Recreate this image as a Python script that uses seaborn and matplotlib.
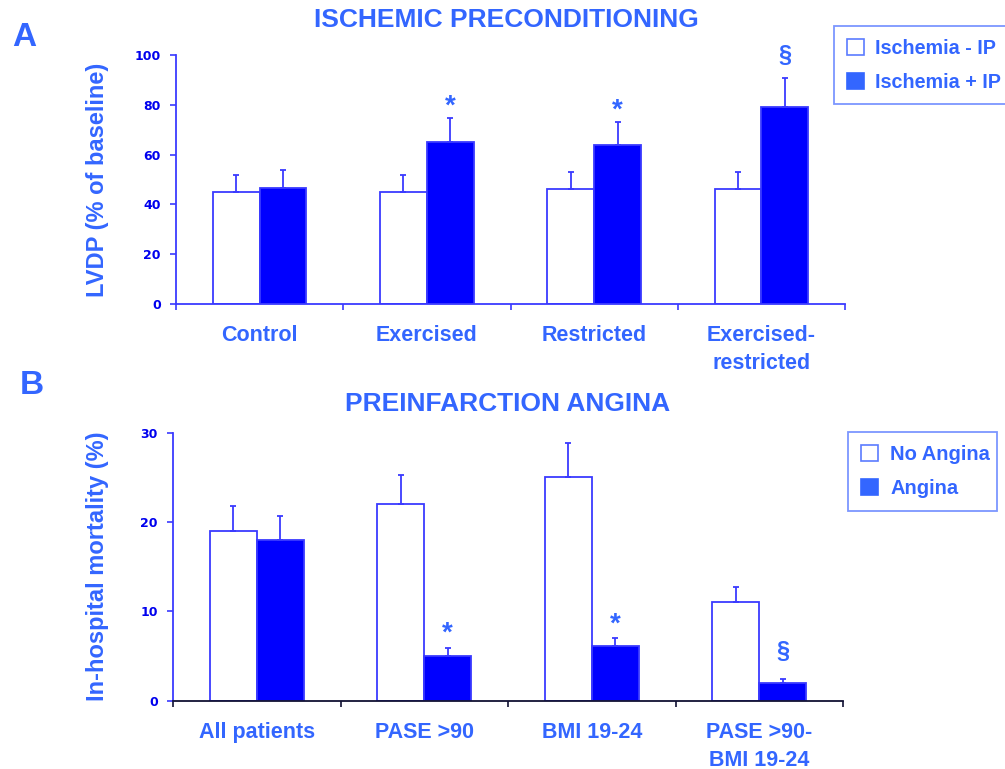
import matplotlib
matplotlib.use("Agg")
import matplotlib.pyplot as plt
from matplotlib.patches import Patch
import seaborn as sns
import pandas as pd

# Panel A: ischemic preconditioning, LVDP as % of baseline
groups_a = ["Control", "Exercised", "Restricted", "Exercised-\nrestricted"]
cond_a = ["Ischemia - IP", "Ischemia + IP"]
lvdp_minus_ip = [45, 45, 46, 46]
lvdp_minus_ip_err = [6.7, 6.7, 7.0, 7.0]
lvdp_plus_ip = [46.7, 65, 64, 79]
lvdp_plus_ip_err = [7.1, 9.8, 9.2, 11.8]
marks_a = ["", "*", "*", "§"]

# Panel B: preinfarction angina, in-hospital mortality
groups_b = ["All patients", "PASE >90", "BMI 19-24", "PASE >90-\nBMI 19-24"]
cond_b = ["No Angina", "Angina"]
mort_no_angina = [19, 22, 25, 11]
mort_no_angina_err = [2.8, 3.3, 3.8, 1.7]
mort_angina = [18, 5, 6.1, 2]
mort_angina_err = [2.7, 0.9, 0.9, 0.4]
marks_b = ["", "*", "*", "§"]

TEXT = "#3366ff"
TICK = "#0000ee"
BAR = "#0000ff"
EDGE = "#3a3aff"
LEG_EDGE = "#5b7cff"
FONT = "Liberation Sans"
W, H = 1005, 769

sns.set_theme(style="white")
plt.rcParams["font.family"] = [FONT, "DejaVu Sans"]

fig = plt.figure(figsize=(W / 100, H / 100), dpi=100)
ax_a = fig.add_axes([176 / W, 1 - 304 / H, (845 - 176) / W, (304 - 55) / H])
ax_b = fig.add_axes([173 / W, 1 - 700.7 / H, (843 - 173) / W, (700.7 - 432.7) / H])


def panel(ax, groups, conds, lo, lo_err, hi, hi_err, marks, ymax, yticks,
          ylabel, bottom_color, mark_offsets):
    df = pd.DataFrame({
        "group": groups * 2,
        "cond": [conds[0]] * len(groups) + [conds[1]] * len(groups),
        "value": lo + hi,
    })
    sns.barplot(data=df, x="group", y="value", hue="cond", order=groups,
                hue_order=conds, palette={conds[0]: "white", conds[1]: BAR},
                saturation=1, width=0.56, edgecolor=EDGE, linewidth=1.3,
                errorbar=None, legend=False, ax=ax)
    errs = [lo_err, hi_err]
    bar_sets = list(ax.containers)
    for k, cont in enumerate(bar_sets):
        for i, bar in enumerate(cont):
            x = bar.get_x() + bar.get_width() / 2
            top = bar.get_height()
            ax.errorbar([x], [top], yerr=[[0], [errs[k][i]]], fmt="none",
                        ecolor=EDGE, elinewidth=1.3, capsize=2.2, capthick=1.3,
                        zorder=1)
            if k == 1 and marks[i]:
                off = mark_offsets[marks[i]]
                ax.annotate(marks[i], xy=(x, top + errs[k][i]), xytext=(0, off),
                            textcoords="offset points", ha="center", va="center",
                            color=TEXT, fontsize=20 if marks[i] == "*" else 17,
                            fontweight="bold")
    ax.set_xlim(-0.5, len(groups) - 0.5)
    ax.set_ylim(0, ymax)
    ax.set_yticks(yticks)
    ax.set_xlabel("")
    ax.set_ylabel(ylabel, color=TEXT, fontsize=17, fontweight="bold")
    # the y label's lower edge sits at pixel column 109
    x_lab = (109 - ax.get_position().x0 * W) / (ax.get_position().width * W)
    ax.yaxis.set_label_coords(x_lab, 0.5)
    ax.set_xticks(range(len(groups)))
    ax.set_xticklabels(groups, color=TEXT, fontsize=15.5, fontweight="bold",
                       linespacing=1.45)
    ax.set_xticks([i - 0.5 for i in range(len(groups) + 1)], minor=True)
    ax.tick_params(axis="x", which="major", length=0, pad=15)
    ax.tick_params(axis="x", which="minor", length=4, width=1.2,
                   direction="out", color=bottom_color, bottom=True)
    ax.tick_params(axis="y", length=4, width=1.2, direction="out",
                   color=EDGE, pad=7, left=True)
    for lab in ax.get_yticklabels():
        lab.set_fontfamily("DejaVu Sans")
        lab.set_fontweight("bold")
        lab.set_fontsize(9)
        lab.set_color(TICK)
    sns.despine(ax=ax)
    ax.spines["left"].set_color(EDGE)
    ax.spines["left"].set_linewidth(1.3)
    ax.spines["bottom"].set_color(bottom_color)
    ax.spines["bottom"].set_linewidth(1.3)
    ax.set_facecolor("white")


panel(ax_a, groups_a, cond_a, lvdp_minus_ip, lvdp_minus_ip_err, lvdp_plus_ip,
      lvdp_plus_ip_err, marks_a, 100, [0, 20, 40, 60, 80, 100],
      "LVDP (% of baseline)", EDGE, {"*": 8, "§": 16})
panel(ax_b, groups_b, cond_b, mort_no_angina, mort_no_angina_err, mort_angina,
      mort_angina_err, marks_b, 30, [0, 10, 20, 30],
      "In-hospital mortality (%)", "#111133", {"*": 10, "§": 20})

# Titles and panel letters
fig.text(506 / W, 1 - 20 / H, "ISCHEMIC PRECONDITIONING", color=TEXT,
         fontsize=19, fontweight="bold", ha="center", va="center")
fig.text(508 / W, 1 - 404 / H, "PREINFARCTION ANGINA", color=TEXT,
         fontsize=19, fontweight="bold", ha="center", va="center")
fig.text(12 / W, 1 - 37 / H, "A", color=TEXT, fontsize=24,
         fontweight="bold", ha="left", va="center")
fig.text(20 / W, 1 - 385 / H, "B", color=TEXT, fontsize=24,
         fontweight="bold", ha="left", va="center")


def legend(ax, labels, x0, x1, y0, size):
    handles = [Patch(facecolor="white", edgecolor=LEG_EDGE, linewidth=1.2),
               Patch(facecolor=TEXT, edgecolor=TEXT, linewidth=1.2)]
    leg = ax.legend(handles, labels, loc="upper left",
                    bbox_to_anchor=(x0 / W, 1 - y0 / H - 0.2, (x1 - x0) / W, 0.2),
                    bbox_transform=fig.transFigure, mode="expand",
                    frameon=True, fancybox=False,
                    prop={"family": FONT, "weight": "bold", "size": size},
                    handlelength=0.85, handleheight=0.85, handletextpad=0.6,
                    borderpad=0.65, labelspacing=0.75, borderaxespad=0)
    frame = leg.get_frame()
    frame.set_edgecolor(LEG_EDGE)
    frame.set_linewidth(1.3)
    for t in leg.get_texts():
        t.set_color(TEXT)


legend(ax_a, cond_a, 834, 1030, 26, 14.2)
legend(ax_b, cond_b, 848, 997, 432, 14.5)

fig.savefig("out.png", dpi=100, facecolor="white")
